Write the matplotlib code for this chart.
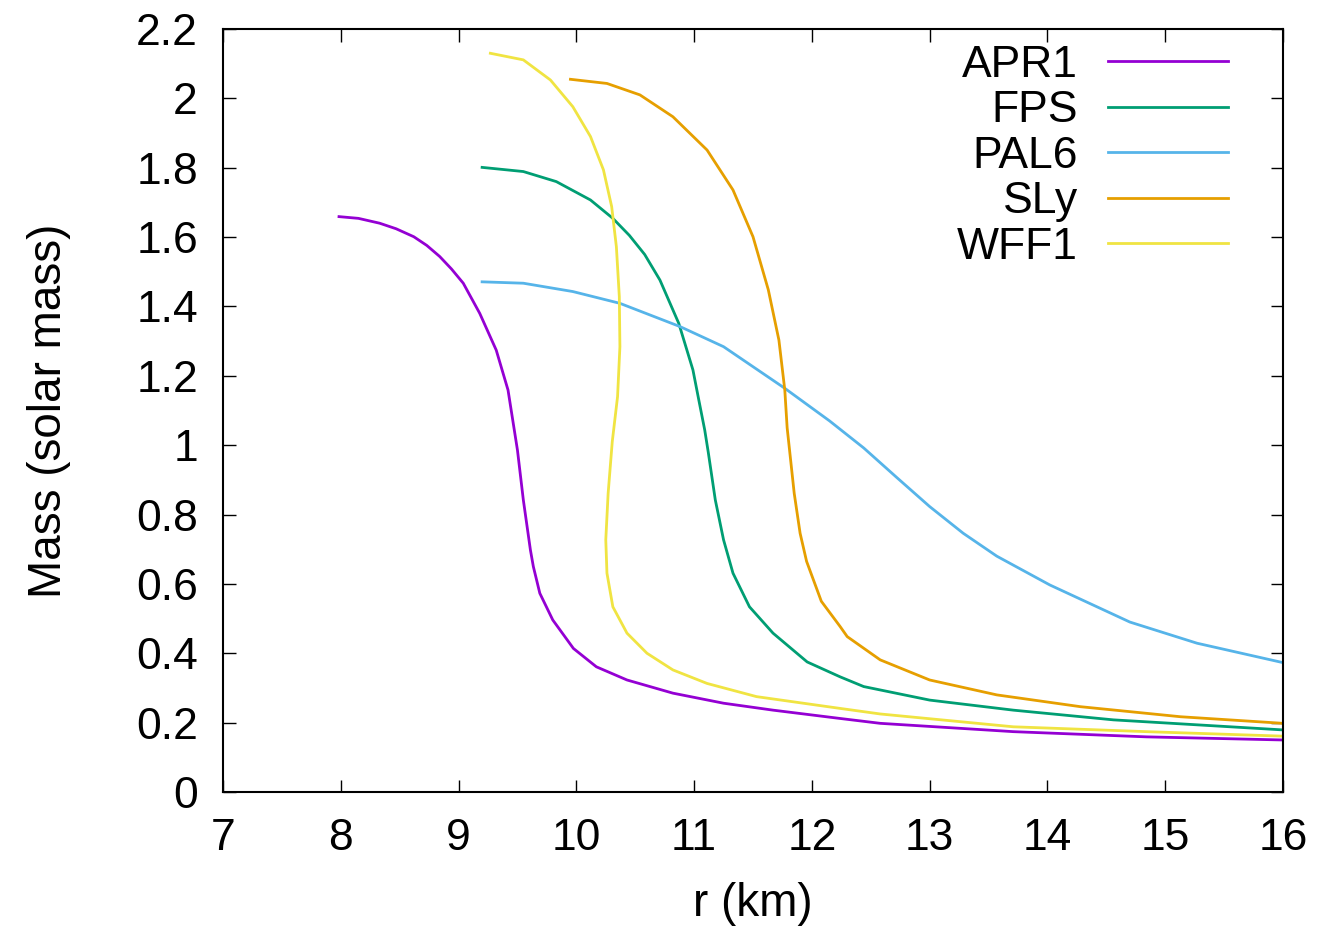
import matplotlib
matplotlib.use("Agg")
import matplotlib.pyplot as plt

plt.rcParams['font.family'] = ['Liberation Sans', 'DejaVu Sans']

# mass-radius curves (r in km, M in solar masses)
apr1_r = [7.985, 8.15, 8.33, 8.47, 8.62, 8.73, 8.84, 8.94, 9.04, 9.18, 9.32, 9.42, 9.50,
          9.55, 9.61, 9.635, 9.69, 9.80, 9.975, 10.17, 10.43, 10.82, 11.25, 11.67, 12.24,
          12.58, 13.71, 14.84, 16.0]
apr1_m = [1.659, 1.654, 1.640, 1.624, 1.601, 1.576, 1.544, 1.508, 1.467, 1.380, 1.274, 1.159, 0.986,
          0.842, 0.698, 0.650, 0.573, 0.496, 0.414, 0.361, 0.323, 0.285, 0.256, 0.236, 0.212,
          0.198, 0.174, 0.159, 0.150]

fps_r = [9.20, 9.55, 9.83, 10.12, 10.31, 10.45, 10.58, 10.71, 10.87, 10.99, 11.04, 11.09, 11.12,
         11.18, 11.25, 11.33, 11.47, 11.67, 11.96, 12.24, 12.44, 13.0, 13.71, 14.56, 16.0]
fps_m = [1.801, 1.789, 1.760, 1.707, 1.654, 1.605, 1.550, 1.476, 1.351, 1.217, 1.130, 1.044, 0.980,
         0.842, 0.727, 0.631, 0.534, 0.458, 0.375, 0.332, 0.304, 0.265, 0.236, 0.208, 0.179]

pal6_r = [9.20, 9.55, 9.97, 10.37, 10.88, 11.25, 11.77, 12.15, 12.44, 12.72, 13.0, 13.285,
          13.57, 14.02, 14.70, 15.27, 16.0]
pal6_m = [1.471, 1.467, 1.443, 1.409, 1.342, 1.284, 1.164, 1.070, 0.992, 0.907, 0.823, 0.746,
          0.680, 0.597, 0.490, 0.429, 0.373]

sly_r = [9.95, 10.26, 10.54, 10.82, 11.11, 11.33, 11.50, 11.63, 11.72, 11.77, 11.79, 11.85,
         11.90, 11.955, 12.08, 12.24, 12.30, 12.58, 13.0, 13.57, 14.28, 15.13, 16.0]
sly_m = [2.055, 2.043, 2.010, 1.947, 1.851, 1.736, 1.601, 1.448, 1.303, 1.159, 1.050, 0.861,
         0.746, 0.665, 0.550, 0.477, 0.448, 0.381, 0.323, 0.280, 0.246, 0.217, 0.198]

wff1_r = [9.27, 9.55, 9.78, 9.97, 10.12, 10.23, 10.30, 10.34, 10.365, 10.37, 10.35, 10.305,
          10.27, 10.25, 10.26, 10.31, 10.43, 10.60, 10.82, 11.11, 11.53, 12.24, 12.58, 13.71,
          14.84, 16.0]
wff1_m = [2.130, 2.111, 2.053, 1.976, 1.890, 1.794, 1.688, 1.572, 1.428, 1.284, 1.140, 1.010,
          0.861, 0.727, 0.631, 0.534, 0.458, 0.400, 0.352, 0.313, 0.275, 0.241, 0.225, 0.188,
          0.174, 0.161]

fig = plt.figure(figsize=(13.39, 9.35), dpi=100)
ax = fig.add_axes([223 / 1339, 143 / 935, 1060 / 1339, 763 / 935])

lw = 2.0
ax.plot(apr1_r, apr1_m, color="#9400d3", lw=lw, label="APR1")
ax.plot(fps_r, fps_m, color="#009e73", lw=lw, label="FPS")
ax.plot(pal6_r, pal6_m, color="#56b4e9", lw=lw, label="PAL6")
ax.plot(sly_r, sly_m, color="#e69f00", lw=lw, label="SLy")
ax.plot(wff1_r, wff1_m, color="#f0e442", lw=lw, label="WFF1")

ax.set_xlim(7, 16)
ax.set_ylim(0, 2.2)
ax.set_xticks(range(7, 17))
ax.set_yticks([0, 0.2, 0.4, 0.6, 0.8, 1, 1.2, 1.4, 1.6, 1.8, 2, 2.2])
ax.set_yticklabels(["0", "0.2", "0.4", "0.6", "0.8", "1", "1.2", "1.4", "1.6", "1.8", "2", "2.2"])
ax.tick_params(direction="in", top=True, right=True, length=9, width=1, labelsize=32)
ax.tick_params(axis="x", pad=19)
ax.tick_params(axis="y", pad=18)
for s in ax.spines.values():
    s.set_linewidth(1.5)

ax.set_xlabel("r (km)", fontsize=33, labelpad=16)
ax.set_ylabel("Mass (solar mass)", fontsize=33, labelpad=47)

ax.legend(loc="upper right", bbox_to_anchor=((1228 - 223) / 1060, (792 - 45) / 763),
          frameon=False, markerfirst=False, fontsize=32,
          handlelength=2.7, handletextpad=0.68, labelspacing=0.1,
          borderpad=0, borderaxespad=0)

plt.savefig("out.png", dpi=100)
